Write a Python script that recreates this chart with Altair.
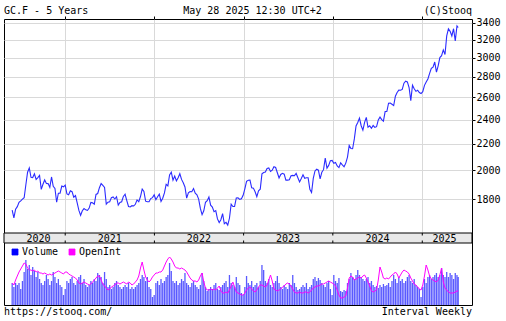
import altair as alt
import pandas as pd

# ---------------- data ----------------
years = [2020, 2021, 2022, 2023, 2024, 2025]
price_ticks = [1800, 2000, 2200, 2400, 2600, 2800, 3000, 3200, 3400]

title_left = "GC.F - 5 Years"
title_mid = "May 28 2025 12:30 UTC+2"
title_right = "(C)Stooq"
footer_left = "https://stooq.com/"
footer_right = "Interval Weekly"
series_names = ["Volume", "OpenInt"]

# weekly closes (Friday), first week 2020-05-29, last point 2025-05-28
price_2020 = [1731, 1683, 1737, 1753, 1780, 1790, 1801, 1810, 1897, 1985, 2015, 1949, 1947, 1973,
              1934, 1947, 1962, 1866, 1900, 1930, 1906, 1905, 1879, 1951, 1886, 1872, 1781, 1840,
              1840, 1888, 1883]
price_2021 = [1895, 1835, 1830, 1856, 1850, 1814, 1824, 1777, 1729, 1699, 1727, 1741, 1733, 1729,
              1744, 1780, 1777, 1768, 1832, 1838, 1877, 1905, 1892, 1879, 1769, 1781, 1784, 1811,
              1815, 1802, 1817, 1763, 1780, 1784, 1819, 1833, 1792, 1754, 1751, 1759, 1757, 1768,
              1796, 1784, 1818, 1868, 1852, 1788, 1784, 1784, 1805, 1811, 1829]
price_2022 = [1797, 1817, 1834, 1786, 1807, 1842, 1900, 1889, 1966, 1985, 1929, 1958, 1924, 1945,
              1974, 1934, 1911, 1882, 1808, 1842, 1851, 1850, 1871, 1840, 1830, 1801, 1742, 1703,
              1727, 1781, 1791, 1815, 1762, 1750, 1721, 1728, 1677, 1655, 1672, 1709, 1648, 1656,
              1640, 1681, 1769, 1754, 1754, 1809, 1810, 1800, 1804, 1826]
price_2023 = [1869, 1921, 1928, 1929, 1876, 1874, 1850, 1817, 1856, 1867, 1973, 1983, 1986, 2011,
              2015, 1990, 1999, 2025, 2019, 1981, 1944, 1969, 1977, 1971, 1929, 1929, 1932, 1960,
              1962, 1960, 1976, 1946, 1916, 1940, 1966, 1942, 1945, 1945, 1866, 1845, 1941, 1994,
              2006, 1999, 1938, 1984, 2003, 2089, 2014, 2034, 2069, 2071]
price_2024 = [2050, 2056, 2030, 2018, 2053, 2038, 2024, 2051, 2096, 2186, 2162, 2160, 2238, 2345,
              2374, 2413, 2347, 2310, 2375, 2419, 2334, 2346, 2325, 2349, 2334, 2339, 2397, 2421,
              2399, 2386, 2470, 2470, 2546, 2547, 2536, 2524, 2611, 2646, 2668, 2667, 2676, 2736,
              2756, 2749, 2694, 2570, 2716, 2681, 2657, 2668, 2645, 2636]
price_2025 = [2654, 2715, 2748, 2778, 2835, 2886, 2900, 2953, 2848, 2913, 3001, 3022, 3085, 3035,
              3245, 3328, 3299, 3244, 3330, 3187, 3365, 3345]

# weekly volume, thousands of contracts
vol_2020 = [660, 540, 660, 600, 660, 480, 720, 990, 1350, 1080, 1200, 900, 1140, 1020, 840, 990,
            780, 660, 600, 720, 900, 780, 600, 720, 990, 840, 660, 780, 600, 540, 300]
vol_2021 = [480, 720, 660, 780, 840, 660, 600, 720, 840, 900, 660, 780, 600, 540, 600, 720, 660,
            780, 720, 960, 900, 840, 660, 990, 780, 540, 600, 480, 540, 660, 720, 600, 540, 480,
            540, 600, 540, 660, 480, 540, 480, 540, 600, 660, 780, 900, 840, 720, 840, 540, 480,
            240, 300]
vol_2022 = [660, 720, 600, 780, 660, 720, 840, 900, 1260, 1020, 720, 660, 720, 600, 660, 780, 720,
            960, 660, 600, 540, 660, 720, 600, 540, 480, 600, 960, 720, 540, 420, 480, 540, 480,
            600, 660, 480, 450, 540, 600, 660, 720, 540, 900, 660, 600, 540, 840, 660, 600, 360, 300]
vol_2023 = [540, 870, 660, 600, 720, 540, 600, 660, 540, 720, 1200, 1050, 720, 660, 780, 600, 540,
            660, 720, 870, 660, 540, 480, 600, 540, 480, 660, 600, 900, 660, 540, 450, 480, 540,
            600, 540, 660, 480, 540, 600, 780, 840, 720, 810, 750, 660, 600, 540, 660, 720, 480, 300]
vol_2024 = [900, 720, 660, 810, 420, 390, 450, 420, 660, 780, 960, 840, 780, 900, 1050, 900, 840,
            780, 720, 780, 840, 660, 720, 600, 540, 570, 510, 600, 540, 630, 570, 600, 660, 540,
            720, 900, 780, 660, 840, 720, 780, 660, 720, 840, 900, 720, 660, 780, 600, 540, 480, 240]
vol_2025 = [540, 780, 660, 840, 900, 780, 840, 900, 960, 840, 900, 1110, 900, 840, 990, 840, 960,
            900, 780, 960, 900, 840]

# open interest, thousands of contracts
oi_2020 = [500, 490, 515, 535, 555, 570, 585, 600, 595, 575, 565, 565, 560, 565, 555, 560, 550, 550,
           545, 550, 545, 540, 545, 540, 545, 550, 555, 560, 555, 550, 545]
oi_2021 = [555, 555, 545, 540, 535, 530, 525, 515, 500, 495, 500, 505, 500, 495, 490, 495, 505, 515,
           525, 535, 535, 515, 495, 485, 475, 465, 470, 480, 485, 490, 500, 500, 495, 500, 505, 500,
           495, 505, 500, 490, 495, 505, 515, 535, 575, 605, 565, 530, 515, 505, 515, 530, 540]
oi_2022 = [550, 550, 555, 555, 565, 585, 605, 620, 630, 620, 605, 585, 575, 575, 570, 575, 570, 565,
           555, 540, 525, 515, 510, 510, 505, 515, 535, 550, 505, 475, 465, 465, 470, 465, 470, 465,
           475, 485, 460, 450, 450, 455, 450, 465, 485, 505, 480, 455, 450, 445, 440, 440]
oi_2023 = [450, 465, 475, 480, 470, 460, 455, 465, 480, 490, 490, 485, 480, 490, 515, 540, 510, 470,
           465, 460, 465, 470, 480, 485, 495, 500, 495, 485, 470, 455, 450, 450, 455, 450, 450, 455,
           455, 450, 455, 465, 475, 480, 485, 485, 490, 495, 495, 500, 505, 510, 505, 500]
oi_2024 = [495, 485, 465, 440, 425, 425, 430, 435, 475, 525, 535, 530, 515, 520, 525, 530, 525, 535,
           540, 525, 505, 485, 460, 455, 460, 465, 515, 580, 555, 525, 520, 525, 520, 530, 540, 545,
           555, 545, 525, 540, 555, 565, 560, 555, 545, 525, 510, 495, 490, 480, 470, 465]
oi_2025 = [490, 535, 590, 565, 535, 520, 515, 510, 505, 515, 540, 575, 505, 475, 465, 455, 450, 450,
           450, 455, 460, 460]

prices = price_2020 + price_2021 + price_2022 + price_2023 + price_2024 + price_2025
volume = vol_2020 + vol_2021 + vol_2022 + vol_2023 + vol_2024 + vol_2025
open_int = oi_2020 + oi_2021 + oi_2022 + oi_2023 + oi_2024 + oi_2025

dates = list(pd.date_range("2020-05-29", periods=261, freq="7D").strftime("%Y-%m-%d")) + ["2025-05-28"]
n = len(dates)
assert len(prices) == n and len(volume) == n and len(open_int) == n, (len(prices), len(volume), len(open_int), n)

df = pd.DataFrame({
    "date": dates, "price": prices, "volume": volume, "oi": open_int,
    "vname": series_names[0], "oname": series_names[1],
})

dom_end = pd.Timestamp("2025-07-03")
first = pd.Timestamp(dates[0])
mids = []
for y in years:
    s = max(pd.Timestamp(f"{y}-01-01"), first)
    e = min(pd.Timestamp(f"{y + 1}-01-01"), dom_end)
    mids.append((s + (e - s) / 2).strftime("%Y-%m-%d"))
df_years = pd.DataFrame({"year": [str(y) for y in years], "mid": mids})
df_starts = pd.DataFrame({"start": [f"{y}-01-01" for y in years[1:]]})

# ---------------- styling ----------------
FONT = "DejaVu Sans Mono"
W, H = 468, 286
TOP_H, BAND_H = 214, 10
GRID = "#d9d9d9"

x_scale = alt.Scale(domain=[alt.DateTime(year=2020, month=5, date=16, utc=True),
                            alt.DateTime(year=2025, month=7, date=3, utc=True)])
x_axis = alt.Axis(orient="top", values=[alt.DateTime(year=y, month=1, date=1, utc=True) for y in years[1:]],
                  grid=True, gridColor=GRID, labels=False, ticks=True, tickSize=3, tickColor="#000",
                  domain=False, title=None)

color_scale = alt.Scale(domain=series_names, range=["#0000ff", "#ff00ff"])
legend = alt.Legend(orient="none", legendX=6, legendY=228, direction="horizontal", title=None,
                    symbolType="square", symbolSize=36, symbolOpacity=1, symbolStrokeColor="#222",
                    symbolStrokeWidth=0.8, labelFont=FONT, labelFontSize=10, labelColor="#000",
                    labelOffset=2, columnPadding=8, padding=0)

base = alt.Chart(df)

price_line = base.mark_line(color="#2b2bff", strokeWidth=1.1).encode(
    x=alt.X("date:T", scale=x_scale, axis=x_axis),
    y=alt.Y("price:Q",
            scale=alt.Scale(type="log", domain=[1594, 3449], range=[TOP_H, 0]),
            axis=alt.Axis(orient="right", values=price_ticks, format="d", grid=True, gridColor=GRID,
                          tickSize=3, tickColor="#000", labelPadding=1, domain=False, title=None,
                          labelFont=FONT, labelFontSize=10, labelColor="#000")),
)

band = alt.Chart(pd.DataFrame({"k": [0]})).mark_rect(fill="#e8e8e8", stroke="#000", strokeWidth=1).encode(
    x=alt.value(0), x2=alt.value(W), y=alt.value(TOP_H), y2=alt.value(TOP_H + BAND_H)
)
band_ticks_top = alt.Chart(df_starts).mark_rule(color="#000").encode(
    x=alt.X("start:T", scale=x_scale, axis=x_axis), y=alt.value(TOP_H), y2=alt.value(TOP_H + 2.5)
)
band_ticks_bot = alt.Chart(df_starts).mark_rule(color="#000").encode(
    x=alt.X("start:T", scale=x_scale, axis=x_axis), y=alt.value(TOP_H + BAND_H - 2.5), y2=alt.value(TOP_H + BAND_H)
)
year_text = alt.Chart(df_years).mark_text(font=FONT, fontSize=10, color="#000", baseline="alphabetic").encode(
    x=alt.X("mid:T", scale=x_scale, axis=x_axis), y=alt.value(222.5), text="year:N"
)

vol_bars = base.mark_bar(size=1.3, opacity=0.65).encode(
    x=alt.X("date:T", scale=x_scale, axis=x_axis),
    y=alt.Y("volume:Q", scale=alt.Scale(domain=[0, 1860], range=[H, TOP_H + BAND_H]), axis=None),
    color=alt.Color("vname:N", scale=color_scale, legend=legend),
)
oi_line = base.mark_line(strokeWidth=1).encode(
    x=alt.X("date:T", scale=x_scale, axis=x_axis),
    y=alt.Y("oi:Q", scale=alt.Scale(domain=[390, 700], range=[H, TOP_H + BAND_H], zero=False), axis=None),
    color=alt.Color("oname:N", scale=color_scale, legend=legend),
)


def label(txt, x, y, align):
    return alt.Chart(pd.DataFrame({"t": [txt]})).mark_text(
        font=FONT, fontSize=10, color="#000", align=align, baseline="alphabetic"
    ).encode(x=alt.value(x), y=alt.value(y), text="t:N")


texts = [
    label(title_left, 0, -5.5, "left"),
    label(title_mid, 248.5, -5.5, "center"),
    label(title_right, W, -5.5, "right"),
    label(footer_left, 0, 295.5, "left"),
    label(footer_right, W, 295.5, "right"),
]

chart = alt.layer(
    price_line, band, band_ticks_top, band_ticks_bot, year_text, vol_bars, oi_line, *texts
).resolve_scale(y="independent").properties(
    width=W, height=H,
    autosize=alt.AutoSizeParams(type="none"),
    padding={"left": 4, "top": 19, "right": 34, "bottom": 16},
).configure_view(stroke="#000", strokeWidth=1)

chart.save("out.html", embed_options={"renderer": "svg", "actions": False})
